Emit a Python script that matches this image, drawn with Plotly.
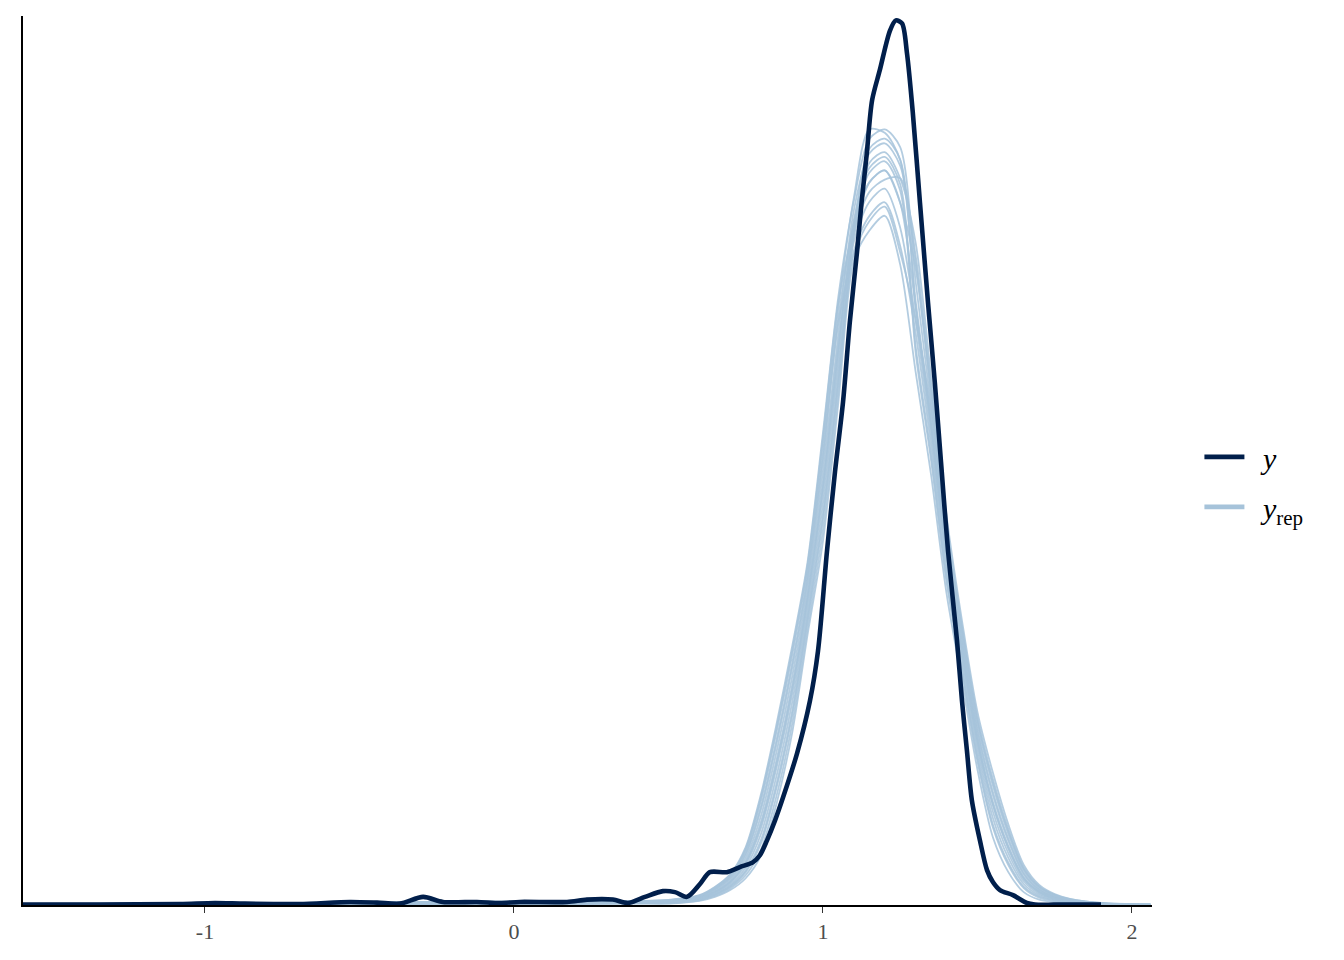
import plotly.graph_objects as go

y_x = [-1.589, -1.340, -1.081, -0.968, -0.871, -0.693, -0.531, -0.443, -0.369, -0.294,
       -0.230, -0.120, -0.045, 0.019, 0.172, 0.236, 0.320, 0.369, 0.424, 0.482,
       0.521, 0.560, 0.602, 0.634, 0.689, 0.731, 0.773, 0.796, 0.819, 0.845,
       0.871, 0.916, 0.958, 0.984, 1.013, 1.039, 1.065, 1.087, 1.110, 1.125,
       1.142, 1.159, 1.184, 1.217, 1.236, 1.256, 1.272, 1.291, 1.314, 1.340,
       1.362, 1.382, 1.405, 1.434, 1.450, 1.466, 1.482, 1.508, 1.531, 1.550,
       1.573, 1.615, 1.660, 1.686, 1.750, 1.900]
y_dens = [0.0015, 0.0015, 0.003, 0.006, 0.004, 0.003, 0.009, 0.007, 0.004, 0.024,
          0.009, 0.009, 0.006, 0.009, 0.009, 0.016, 0.016, 0.006, 0.024, 0.041,
          0.038, 0.024, 0.062, 0.097, 0.097, 0.112, 0.126, 0.147, 0.191, 0.250,
          0.318, 0.447, 0.603, 0.750, 1.044, 1.279, 1.485, 1.721, 1.926, 2.074,
          2.220, 2.376, 2.465, 2.582, 2.612, 2.603, 2.515, 2.338, 2.074, 1.779,
          1.544, 1.309, 1.044, 0.779, 0.603, 0.456, 0.309, 0.191, 0.103, 0.068,
          0.044, 0.029, 0.006, 0.0015, 0.001, 0.001]

# ---- replicated data y_rep (densities on a common grid) ----
rep_x = [-1.59, -1.3, -1.0, -0.7, -0.4, -0.1, 0.2, 0.4, 0.5, 0.6, 0.65, 0.7, 0.75, 0.8,
         0.85, 0.9, 0.95, 1.0, 1.05, 1.1, 1.15, 1.2, 1.25, 1.3, 1.35, 1.4, 1.45, 1.5,
         1.55, 1.6, 1.65, 1.7, 1.75, 1.8, 1.9, 2.06]

yrep_1 = [0.003, 0.004, 0.005, 0.006, 0.008, 0.010, 0.010, 0.012, 0.015, 0.029, 0.053, 0.091,
          0.171, 0.329, 0.535, 0.762, 1.012, 1.394, 1.797, 2.079, 2.262, 2.290, 2.238, 1.841,
          1.473, 1.081, 0.786, 0.519, 0.334, 0.196, 0.094, 0.046, 0.025, 0.014, 0.005, 0.001]
yrep_2 = [0.000, 0.001, 0.001, 0.002, 0.002, 0.003, 0.003, 0.004, 0.004, 0.012, 0.024, 0.044,
          0.079, 0.147, 0.300, 0.506, 0.797, 1.074, 1.485, 1.903, 1.991, 2.035, 1.891, 1.574,
          1.270, 0.920, 0.660, 0.400, 0.200, 0.097, 0.038, 0.016, 0.009, 0.004, 0.001, 0.000]
yrep_3 = [0.002, 0.002, 0.003, 0.004, 0.005, 0.006, 0.007, 0.008, 0.010, 0.020, 0.038, 0.068,
          0.125, 0.238, 0.418, 0.634, 0.905, 1.234, 1.641, 1.996, 2.134, 2.169, 2.074, 1.765,
          1.415, 1.035, 0.750, 0.485, 0.296, 0.168, 0.078, 0.038, 0.020, 0.011, 0.004, 0.001]
yrep_4 = [0.002, 0.003, 0.004, 0.005, 0.007, 0.009, 0.009, 0.010, 0.013, 0.026, 0.047, 0.082,
          0.153, 0.293, 0.488, 0.711, 0.969, 1.330, 1.735, 2.014, 2.162, 2.196, 2.110, 1.650,
          1.328, 0.966, 0.696, 0.434, 0.238, 0.125, 0.054, 0.025, 0.014, 0.007, 0.002, 0.000]
yrep_5 = [0.001, 0.002, 0.002, 0.003, 0.003, 0.004, 0.004, 0.006, 0.006, 0.015, 0.030, 0.053,
          0.097, 0.183, 0.347, 0.557, 0.840, 1.138, 1.547, 1.977, 2.191, 2.223, 2.146, 1.956,
          1.560, 1.150, 0.840, 0.570, 0.391, 0.238, 0.118, 0.059, 0.032, 0.018, 0.006, 0.001]
yrep_6 = [0.002, 0.003, 0.004, 0.005, 0.006, 0.008, 0.008, 0.009, 0.011, 0.023, 0.043, 0.075,
          0.139, 0.265, 0.453, 0.672, 0.937, 1.282, 1.688, 2.051, 2.219, 2.249, 2.183, 1.899,
          1.517, 1.116, 0.813, 0.545, 0.362, 0.217, 0.106, 0.053, 0.029, 0.016, 0.005, 0.001]
yrep_7 = [0.001, 0.002, 0.002, 0.003, 0.004, 0.005, 0.005, 0.007, 0.008, 0.018, 0.034, 0.060,
          0.111, 0.211, 0.382, 0.596, 0.872, 1.186, 1.594, 1.958, 2.076, 2.115, 2.000, 1.727,
          1.386, 1.012, 0.732, 0.468, 0.276, 0.153, 0.070, 0.033, 0.018, 0.010, 0.003, 0.000]
yrep_8 = [0.003, 0.004, 0.005, 0.006, 0.007, 0.009, 0.009, 0.011, 0.014, 0.027, 0.050, 0.086,
          0.162, 0.311, 0.512, 0.736, 0.990, 1.362, 1.766, 2.088, 2.290, 2.280, 2.200, 1.784,
          1.430, 1.047, 0.759, 0.494, 0.305, 0.175, 0.082, 0.040, 0.022, 0.012, 0.004, 0.001]
yrep_9 = [0.000, 0.001, 0.001, 0.002, 0.003, 0.004, 0.004, 0.005, 0.005, 0.014, 0.027, 0.049,
          0.088, 0.165, 0.323, 0.532, 0.818, 1.106, 1.516, 1.931, 2.034, 2.075, 1.946, 1.689,
          1.357, 0.989, 0.714, 0.451, 0.257, 0.139, 0.062, 0.029, 0.016, 0.008, 0.002, 0.000]
yrep_10 = [0.002, 0.003, 0.003, 0.004, 0.005, 0.007, 0.007, 0.008, 0.010, 0.021, 0.040, 0.070,
           0.130, 0.247, 0.429, 0.647, 0.915, 1.250, 1.657, 1.977, 2.105, 2.142, 2.146, 1.918,
           1.531, 1.127, 0.822, 0.553, 0.372, 0.224, 0.110, 0.055, 0.030, 0.017, 0.006, 0.001]
yrep_11 = [0.002, 0.003, 0.004, 0.005, 0.007, 0.008, 0.008, 0.010, 0.012, 0.025, 0.046, 0.079,
           0.148, 0.284, 0.476, 0.698, 0.958, 1.314, 1.719, 1.921, 2.019, 2.062, 1.927, 1.727,
           1.458, 1.069, 0.777, 0.510, 0.324, 0.189, 0.090, 0.044, 0.024, 0.013, 0.004, 0.001]
yrep_12 = [0.001, 0.002, 0.002, 0.003, 0.004, 0.005, 0.005, 0.006, 0.007, 0.016, 0.031, 0.056,
           0.102, 0.193, 0.359, 0.570, 0.851, 1.154, 1.563, 1.995, 2.233, 2.263, 2.201, 1.765,
           1.415, 1.035, 0.750, 0.485, 0.296, 0.168, 0.078, 0.038, 0.020, 0.011, 0.004, 0.001]
yrep_13 = [0.001, 0.002, 0.003, 0.004, 0.005, 0.006, 0.006, 0.008, 0.009, 0.020, 0.037, 0.065,
           0.120, 0.229, 0.406, 0.621, 0.894, 1.218, 1.625, 2.023, 2.176, 2.209, 2.128, 1.631,
           1.313, 0.954, 0.687, 0.425, 0.229, 0.118, 0.050, 0.022, 0.012, 0.006, 0.002, 0.000]
yrep_14 = [0.003, 0.004, 0.005, 0.006, 0.008, 0.010, 0.010, 0.012, 0.014, 0.028, 0.052, 0.089,
           0.166, 0.320, 0.523, 0.749, 1.001, 1.378, 1.781, 1.996, 2.133, 2.169, 2.073, 1.880,
           1.502, 1.104, 0.804, 0.536, 0.353, 0.210, 0.102, 0.050, 0.027, 0.015, 0.005, 0.001]

yrep_curves = [yrep_1, yrep_2, yrep_3, yrep_4, yrep_5, yrep_6, yrep_7, yrep_8, yrep_9,
               yrep_10, yrep_11, yrep_12, yrep_13, yrep_14]

tick_vals = [-1, 0, 1, 2]
tick_text = ["-1", "0", "1", "2"]

DARK = "#011f4b"
LIGHT = "#a6c3da"

fig = go.Figure()

for i, curve in enumerate(yrep_curves):
    fig.add_trace(go.Scatter(
        x=rep_x, y=curve, mode="lines",
        line=dict(color="rgba(166,195,218,0.85)", width=1.8, shape="spline", smoothing=0.8),
        showlegend=False, hoverinfo="skip"))

fig.add_trace(go.Scatter(
    x=y_x, y=y_dens, mode="lines", name="&nbsp;&#8201;<i>y</i>",
    line=dict(color=DARK, width=4.6, shape="spline", smoothing=0.8),
    legendgroup="y", legendrank=1))

# legend entry for y_rep
fig.add_trace(go.Scatter(
    x=[None], y=[None], mode="lines", name="&nbsp;&#8201;<i>y</i><sub>rep</sub>",
    line=dict(color=LIGHT, width=4.6),
    legendgroup="yrep", legendrank=2))

fig.update_layout(
    width=1344, height=960,
    margin=dict(l=15, r=200, t=8, b=63),
    paper_bgcolor="white", plot_bgcolor="white",
    font=dict(family="Liberation Serif", color="#333333"),
    legend=dict(
        x=1.042, y=0.476, xanchor="left", yanchor="middle",
        font=dict(family="Liberation Serif", size=30, color="black"),
        traceorder="grouped", tracegroupgap=8, itemwidth=40,
        bgcolor="rgba(0,0,0,0)"),
    xaxis=dict(
        range=[-1.589, 2.065], tickmode="array", tickvals=tick_vals, ticktext=tick_text,
        showgrid=False, zeroline=False, showline=True, linecolor="black", linewidth=1.8,
        ticks="outside", ticklen=6, tickwidth=1.2, tickcolor="#333333",
        tickfont=dict(family="Liberation Serif", size=22, color="#4d4d4d")),
    yaxis=dict(
        range=[0, 2.625], showgrid=False, zeroline=False, showline=True,
        linecolor="black", linewidth=1.8, ticks="", showticklabels=False),
)

fig.write_html("out.html")
